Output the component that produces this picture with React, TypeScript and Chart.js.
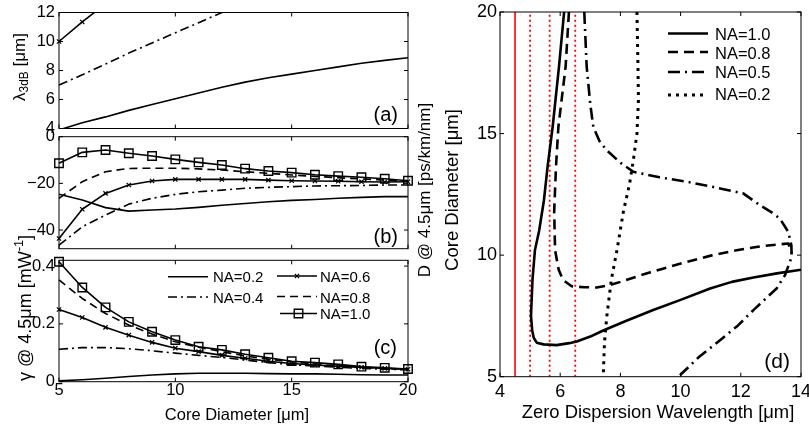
import React, { useEffect, useRef } from "react";
import { Chart, registerables } from "chart.js";

Chart.register(...registerables);

const W = 809;
const H = 427;
const FONT = "'Liberation Sans', Arial, Helvetica, sans-serif";
Chart.defaults.font.family = FONT;

// ---------------- data ----------------
const coreDiameter = [5, 6, 7, 8, 9, 10, 11, 12, 13, 14, 15, 16, 17, 18, 19, 20];
const ticksCore = [5, 10, 15, 20];

// (a) lambda 3dB [um]
const lambdaNA02 = [3.9, 4.4, 4.8, 5.25, 5.65, 6.05, 6.45, 6.85, 7.2, 7.5, 7.75, 8.0, 8.25, 8.5, 8.7, 8.88];
const lambdaNA04 = [7.0, 7.7, 8.45, 9.2, 9.9, 10.6, 11.3, 12.0, 12.7];
const lambdaNA06 = [10.0, 11.35, 12.6];
const ticksLambda = [4, 6, 8, 10, 12];
const rangeLambda = [4, 12];

// (b) D @ 4.5um [ps/km/nm]
const dispNA02 = [-24.7, -27.1, -30.4, -31.9, -31.4, -31.0, -30.3, -29.4, -28.6, -27.9, -27.3, -26.9, -26.4, -26.0, -25.7, -25.7];
const dispNA04 = [-46.5, -38.6, -33.6, -28.9, -26.4, -24.7, -23.6, -22.9, -22.1, -21.7, -21.4, -21.1, -21.0, -20.9, -20.7, -20.7];
const dispNA06 = [-43.6, -31.1, -24.3, -20.7, -19.0, -18.3, -18.3, -18.3, -18.3, -18.6, -18.9, -19.0, -19.1, -19.3, -19.4, -19.3];
const dispNA08 = [-26.4, -19.3, -15.0, -13.6, -13.5, -13.5, -13.8, -14.3, -15.0, -15.7, -16.4, -17.0, -17.6, -18.1, -18.6, -19.0];
const dispNA10 = [-11.4, -6.7, -5.7, -7.1, -8.3, -9.7, -11.0, -12.1, -13.7, -14.7, -15.4, -16.3, -16.9, -17.4, -18.0, -18.9];
const ticksDisp = [-40, -20, 0];
const rangeDisp = [-48, 0];

// (c) gamma @ 4.5um [1/mW]
const gammaNA02 = [0.003, 0.007, 0.012, 0.018, 0.023, 0.027, 0.029, 0.029, 0.029, 0.028, 0.027, 0.027, 0.026, 0.024, 0.023, 0.023];
const gammaNA04 = [0.112, 0.118, 0.118, 0.114, 0.107, 0.099, 0.091, 0.084, 0.075, 0.066, 0.059, 0.054, 0.05, 0.046, 0.043, 0.041];
const gammaNA06 = [0.25, 0.222, 0.188, 0.161, 0.136, 0.116, 0.104, 0.091, 0.081, 0.071, 0.063, 0.058, 0.053, 0.05, 0.046, 0.043];
const gammaNA08 = [0.352, 0.288, 0.236, 0.196, 0.165, 0.138, 0.119, 0.104, 0.089, 0.078, 0.069, 0.061, 0.055, 0.05, 0.045, 0.043];
const gammaNA10 = [0.415, 0.326, 0.257, 0.207, 0.173, 0.144, 0.121, 0.11, 0.095, 0.083, 0.071, 0.066, 0.06, 0.052, 0.048, 0.044];
const ticksGamma = [0, 0.2, 0.4];
const rangeGamma = [0, 0.42];

// (d) zero dispersion wavelength [um] vs core diameter [um]
const zdwNA10 = [6.13, 5.96, 5.75, 5.58, 5.46, 5.3, 5.16, 5.08, 5.03, 5.07, 5.12, 5.22, 5.45, 5.88, 6.3, 6.55, 7.0, 7.43, 8.2, 9.09, 10.0, 10.98, 11.7, 12.42, 13.2, 14.0];
const coreNA10 = [20, 17.75, 15.28, 13.63, 12.26, 11.0, 10.2, 9.0, 7.5, 6.9, 6.6, 6.4, 6.33, 6.3, 6.38, 6.45, 6.65, 6.9, 7.3, 7.74, 8.16, 8.63, 8.9, 9.08, 9.25, 9.4];
const zdwNA08 = [6.29, 6.18, 5.94, 5.86, 5.8, 5.83, 5.95, 6.1, 6.38, 6.8, 7.21, 7.6, 8.0, 9.0, 10.2, 11.0, 11.86, 12.7, 13.58, 13.69];
const coreNA08 = [20, 17.75, 15.28, 13.63, 11.8, 10.2, 9.4, 8.97, 8.72, 8.68, 8.67, 8.75, 8.9, 9.3, 9.72, 9.98, 10.2, 10.37, 10.48, 10.07];
const zdwNA05 = [6.8, 6.88, 7.0, 7.1, 7.3, 7.54, 8.0, 8.43, 9.3, 10.2, 11.1, 12.08, 12.64, 13.08, 13.3, 13.58, 13.68, 13.69, 13.47, 13.19, 12.42, 11.9, 11.31, 10.6, 9.98];
const coreNA05 = [20, 17.75, 16.2, 15.28, 14.7, 14.32, 13.8, 13.43, 13.2, 13.02, 12.8, 12.54, 12.05, 11.72, 11.5, 10.95, 10.4, 9.93, 9.18, 8.63, 7.74, 7.1, 6.5, 5.8, 5.06];
const zdwNA02 = [8.55, 8.58, 8.6, 8.55, 8.43, 8.3, 8.1, 7.9, 7.7, 7.55, 7.47, 7.43];
const coreNA02 = [20, 18, 16.4, 15, 13.9, 12.9, 11.8, 10.3, 9.0, 7.5, 6.4, 5];
const pumpSolid = [4.5];
const pumpDotted = [5.0, 5.65, 6.5];
const ticksZdw = [4, 6, 8, 10, 12, 14];
const ticksCoreD = [5, 10, 15, 20];
const rangeZdw = [4, 14];
const rangeCoreD = [5, 20];

// ---------------- helpers ----------------
type Part = { t: string; sub?: boolean; sup?: boolean };
type TextItem = { x: number; y: number; rot?: number; size: number; align?: "left" | "center" | "right"; parts: Part[] };
type LegendItem = { ds: number; x1: number; x2: number; ly: number; tx: number; ty: number; size: number };
type Area = { l: number; t: number; r: number; b: number };

function drawText(ctx: CanvasRenderingContext2D, it: TextItem) {
  ctx.save();
  ctx.translate(it.x, it.y);
  if (it.rot) ctx.rotate(it.rot);
  ctx.fillStyle = "#000";
  ctx.textBaseline = "middle";
  ctx.textAlign = "left";
  const fontFor = (p: Part) => `${p.sub || p.sup ? it.size * 0.7 : it.size}px ${FONT}`;
  let total = 0;
  const widths = it.parts.map((p) => {
    ctx.font = fontFor(p);
    const w = ctx.measureText(p.t).width;
    total += w;
    return w;
  });
  let x0 = it.align === "left" ? 0 : it.align === "right" ? -total : -total / 2;
  it.parts.forEach((p, i) => {
    ctx.font = fontFor(p);
    const dy = p.sub ? it.size * 0.3 : p.sup ? -it.size * 0.35 : 0;
    ctx.fillText(p.t, x0, dy);
    x0 += widths[i];
  });
  ctx.restore();
}

function drawMarker(ctx: CanvasRenderingContext2D, style: string, x: number, y: number, r: number) {
  ctx.beginPath();
  if (style === "rect") {
    const s = Math.SQRT1_2 * r;
    ctx.rect(x - s, y - s, 2 * s, 2 * s);
  } else if (style === "crossRot") {
    const s = r * Math.SQRT1_2;
    ctx.moveTo(x - s, y - s);
    ctx.lineTo(x + s, y + s);
    ctx.moveTo(x - s, y + s);
    ctx.lineTo(x + s, y - s);
  }
  ctx.stroke();
}

type Style = { width: number; dash?: number[]; color?: string; marker?: string; r?: number; mw?: number };

function series(label: string, xs: number[], ys: number[], st: Style, clip: any) {
  return {
    label,
    data: ys.map((y, i) => ({ x: xs[i], y })),
    showLine: true,
    borderColor: st.color ?? "#000",
    borderWidth: st.width,
    borderDash: st.dash ?? [],
    borderJoinStyle: "round",
    pointRadius: st.marker ? st.r ?? 3 : 0,
    pointStyle: st.marker ?? "circle",
    pointBorderColor: st.color ?? "#000",
    pointBackgroundColor: "rgba(0,0,0,0)",
    pointBorderWidth: st.mw ?? 1.2,
    tension: 0,
    clip,
  };
}

interface PanelCfg {
  area: Area;
  xr: number[];
  yr: number[];
  xTicks: number[];
  yTicks: number[];
  showX: boolean;
  tickSize: number;
  xPad: number;
  yPad: number;
  datasets: any[];
  texts: TextItem[];
  legend: LegendItem[];
}

const fmt = (v: any) => (Number(v) < 0 ? "\u2212" + String(-Number(v)) : String(v));

function makeChart(canvas: HTMLCanvasElement, p: PanelCfg) {
  const YW = 60;
  const XH = p.showX ? 40 : 0;
  const font = { family: FONT, size: p.tickSize, lineHeight: 1 };
  const overlay = {
    id: "overlay",
    afterDatasetsDraw(chart: any) {
      const ctx: CanvasRenderingContext2D = chart.ctx;
      const a = chart.chartArea;
      const xs = chart.scales.x;
      const ys = chart.scales.y;
      ctx.save();
      ctx.setLineDash([]);
      ctx.strokeStyle = "#000";
      ctx.lineWidth = 1;
      ctx.strokeRect(a.left, a.top, a.right - a.left, a.bottom - a.top);
      const tl = 4;
      ctx.beginPath();
      for (const v of p.xTicks) {
        const px = xs.getPixelForValue(v);
        ctx.moveTo(px, a.bottom);
        ctx.lineTo(px, a.bottom - tl);
        ctx.moveTo(px, a.top);
        ctx.lineTo(px, a.top + tl);
      }
      for (const v of p.yTicks) {
        const py = ys.getPixelForValue(v);
        ctx.moveTo(a.left, py);
        ctx.lineTo(a.left + tl, py);
        ctx.moveTo(a.right, py);
        ctx.lineTo(a.right - tl, py);
      }
      ctx.stroke();
      // legend
      for (const li of p.legend) {
        const ds = chart.data.datasets[li.ds];
        ctx.save();
        ctx.strokeStyle = ds.borderColor;
        ctx.lineWidth = ds.borderWidth;
        ctx.setLineDash(ds.borderDash || []);
        ctx.beginPath();
        ctx.moveTo(li.x1, li.ly);
        ctx.lineTo(li.x2, li.ly);
        ctx.stroke();
        ctx.setLineDash([]);
        if (ds.pointRadius > 0) {
          ctx.lineWidth = ds.pointBorderWidth;
          drawMarker(ctx, ds.pointStyle, (li.x1 + li.x2) / 2, li.ly, ds.pointRadius);
        }
        ctx.restore();
        drawText(ctx, { x: li.tx, y: li.ty, size: li.size, align: "left", parts: [{ t: ds.label }] });
      }
      for (const t of p.texts) drawText(ctx, t);
      ctx.restore();
    },
  };
  return new Chart(canvas, {
    type: "scatter",
    data: { datasets: p.datasets },
    options: {
      responsive: false,
      animation: false,
      events: [],
      layout: {
        padding: { left: p.area.l - YW, top: p.area.t, right: W - p.area.r, bottom: H - p.area.b - XH },
      },
      plugins: { legend: { display: false }, tooltip: { enabled: false } },
      scales: {
        x: {
          type: "linear",
          position: "bottom",
          min: p.xr[0],
          max: p.xr[1],
          display: p.showX,
          grid: { display: false, drawTicks: false },
          border: { display: false },
          ticks: { font, color: "#000", padding: p.xPad, maxRotation: 0, autoSkip: false, callback: fmt },
          afterBuildTicks: (s: any) => {
            s.ticks = p.xTicks.map((v) => ({ value: v }));
          },
          afterFit: (s: any) => {
            s.height = XH;
            s.paddingLeft = 0;
            s.paddingRight = 0;
          },
        },
        y: {
          type: "linear",
          position: "left",
          min: p.yr[0],
          max: p.yr[1],
          grid: { display: false, drawTicks: false },
          border: { display: false },
          ticks: { font, color: "#000", padding: p.yPad, autoSkip: false, callback: fmt },
          afterBuildTicks: (s: any) => {
            s.ticks = p.yTicks.map((v) => ({ value: v }));
          },
          afterFit: (s: any) => {
            s.width = YW;
            s.paddingTop = 0;
            s.paddingBottom = 0;
          },
        },
      },
    },
    plugins: [overlay],
  } as any);
}

const LW = 1.6;
const DASH = [8, 5];
const DASHDOT = [9, 4, 2, 4];
const st02: Style = { width: LW };
const st04: Style = { width: LW, dash: DASHDOT };
const st06: Style = { width: LW, marker: "crossRot", r: 3, mw: 1.2 };
const st08: Style = { width: LW, dash: DASH };
const st10: Style = { width: LW, marker: "rect", r: 6, mw: 1.4 };

const DW = 2.6;

export default function App() {
  const ra = useRef<HTMLCanvasElement>(null);
  const rb = useRef<HTMLCanvasElement>(null);
  const rc = useRef<HTMLCanvasElement>(null);
  const rd = useRef<HTMLCanvasElement>(null);

  useEffect(() => {
    const clipA = { left: false, right: false, top: 0, bottom: 0 };
    const a = makeChart(ra.current!, {
      area: { l: 59, t: 12.5, r: 408, b: 128.5 },
      xr: [5, 20],
      yr: rangeLambda,
      xTicks: ticksCore,
      yTicks: ticksLambda,
      showX: false,
      tickSize: 16.5,
      xPad: 1,
      yPad: 4,
      datasets: [
        series("NA=0.2", coreDiameter, lambdaNA02, st02, clipA),
        series("NA=0.4", coreDiameter, lambdaNA04, st04, clipA),
        series("NA=0.6", coreDiameter, lambdaNA06, st06, clipA),
      ],
      texts: [
        { x: 398, y: 115, size: 20, align: "right", parts: [{ t: "(a)" }] },
        { x: 20, y: 67, rot: -Math.PI / 2, size: 17, parts: [{ t: "λ" }, { t: "3dB", sub: true }, { t: " [μm]" }] },
      ],
      legend: [],
    });
    const b = makeChart(rb.current!, {
      area: { l: 59, t: 136.7, r: 408, b: 248.7 },
      xr: [5, 20],
      yr: rangeDisp,
      xTicks: ticksCore,
      yTicks: ticksDisp,
      showX: false,
      tickSize: 16.5,
      xPad: 1,
      yPad: 4,
      datasets: [
        series("NA=0.2", coreDiameter, dispNA02, st02, false),
        series("NA=0.4", coreDiameter, dispNA04, st04, false),
        series("NA=0.6", coreDiameter, dispNA06, st06, false),
        series("NA=0.8", coreDiameter, dispNA08, st08, false),
        series("NA=1.0", coreDiameter, dispNA10, st10, false),
      ],
      texts: [
        { x: 398, y: 237, size: 20, align: "right", parts: [{ t: "(b)" }] },
        { x: 425, y: 190, rot: -Math.PI / 2, size: 17, parts: [{ t: "D @ 4.5μm [ps/km/nm]" }] },
      ],
      legend: [],
    });
    const c = makeChart(rc.current!, {
      area: { l: 59, t: 260.3, r: 408, b: 381.7 },
      xr: [5, 20],
      yr: rangeGamma,
      xTicks: ticksCore,
      yTicks: ticksGamma,
      showX: true,
      tickSize: 16.5,
      xPad: 1,
      yPad: 4,
      datasets: [
        series("NA=0.2", coreDiameter, gammaNA02, st02, false),
        series("NA=0.4", coreDiameter, gammaNA04, st04, false),
        series("NA=0.6", coreDiameter, gammaNA06, st06, false),
        series("NA=0.8", coreDiameter, gammaNA08, st08, false),
        series("NA=1.0", coreDiameter, gammaNA10, st10, false),
      ],
      texts: [
        { x: 397, y: 348, size: 20, align: "right", parts: [{ t: "(c)" }] },
        { x: 26, y: 308, rot: -Math.PI / 2, size: 18, parts: [{ t: "γ @ 4.5μm [mW" }, { t: "-1", sup: true }, { t: "]" }] },
        { x: 237, y: 415, size: 16.5, parts: [{ t: "Core Diameter [μm]" }] },
      ],
      legend: [
        { ds: 0, x1: 168, x2: 208, ly: 276.7, tx: 213, ty: 277.5, size: 15 },
        { ds: 1, x1: 168, x2: 208, ly: 297, tx: 213, ty: 298.5, size: 15 },
        { ds: 2, x1: 277, x2: 317, ly: 276, tx: 320, ty: 277.5, size: 15 },
        { ds: 3, x1: 277, x2: 317, ly: 296.5, tx: 320, ty: 298.5, size: 15 },
        { ds: 4, x1: 280, x2: 317, ly: 313.5, tx: 320, ty: 315, size: 15 },
      ],
    });
    const vline = (x: number) => [x, x];
    const d = makeChart(rd.current!, {
      area: { l: 500, t: 12, r: 801, b: 376.7 },
      xr: rangeZdw,
      yr: rangeCoreD,
      xTicks: ticksZdw,
      yTicks: ticksCoreD,
      showX: true,
      tickSize: 18,
      xPad: 6,
      yPad: 3,
      datasets: [
        series("NA=1.0", zdwNA10, coreNA10, { width: DW }, undefined),
        series("NA=0.8", zdwNA08, coreNA08, { width: DW, dash: [10, 6] }, undefined),
        series("NA=0.5", zdwNA05, coreNA05, { width: DW, dash: [12, 5, 2, 5] }, undefined),
        series("NA=0.2", zdwNA02, coreNA02, { width: 3, dash: [3, 5] }, undefined),
        ...pumpSolid.map((v) => series("pump", vline(v), rangeCoreD, { width: 1.6, color: "#ff0000" }, undefined)),
        ...pumpDotted.map((v) => series("pump", vline(v), rangeCoreD, { width: 1.8, color: "#ff0000", dash: [2, 3] }, undefined)),
      ],
      texts: [
        { x: 790, y: 362, size: 21, align: "right", parts: [{ t: "(d)" }] },
        { x: 453, y: 190, rot: -Math.PI / 2, size: 18.5, parts: [{ t: "Core Diameter [μm]" }] },
        { x: 658, y: 413, size: 18.4, parts: [{ t: "Zero Dispersion Wavelength [μm]" }] },
      ],
      legend: [
        { ds: 0, x1: 668, x2: 708, ly: 33.5, tx: 715, ty: 35.5, size: 16.5 },
        { ds: 1, x1: 668, x2: 708, ly: 52, tx: 715, ty: 54, size: 16.5 },
        { ds: 2, x1: 668, x2: 708, ly: 72, tx: 715, ty: 73.5, size: 16.5 },
        { ds: 3, x1: 668, x2: 708, ly: 95, tx: 715, ty: 95, size: 16.5 },
      ],
    });
    return () => {
      a.destroy();
      b.destroy();
      c.destroy();
      d.destroy();
    };
  }, []);

  const cs: React.CSSProperties = { position: "absolute", left: 0, top: 0, width: W, height: H };
  return (
    <div style={{ position: "fixed", left: 0, top: 0, width: W, height: H, background: "#fff", overflow: "hidden" }}>
      <canvas ref={ra} width={W} height={H} style={cs} />
      <canvas ref={rb} width={W} height={H} style={cs} />
      <canvas ref={rc} width={W} height={H} style={cs} />
      <canvas ref={rd} width={W} height={H} style={cs} />
    </div>
  );
}
